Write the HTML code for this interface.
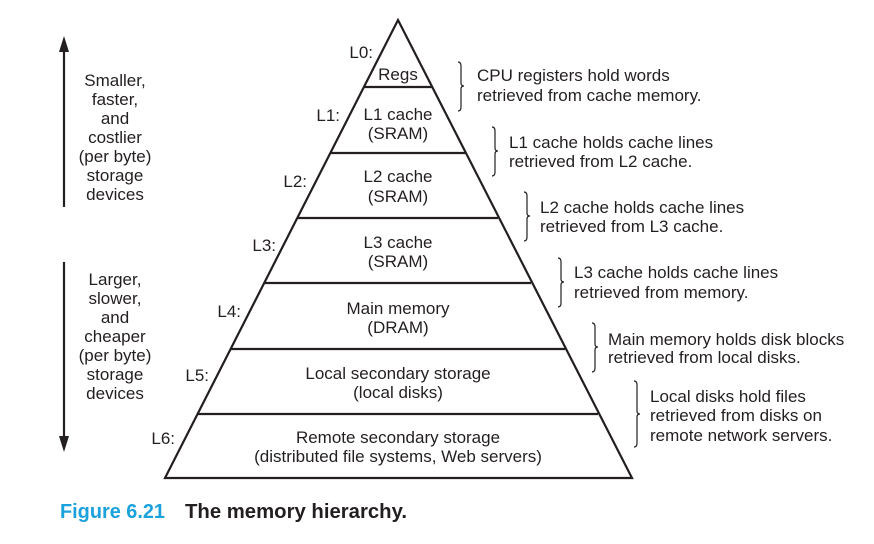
<!DOCTYPE html>
<html><head><meta charset="utf-8"><style>
html,body{margin:0;padding:0;background:#fff;}
svg{display:block;}
text{font-family:"Liberation Sans",Arial,sans-serif;font-size:17px;fill:#231f20;}
.c{text-anchor:middle;}
.e{text-anchor:end;}
</style></head><body>
<svg width="874" height="544" viewBox="0 0 874 544" xmlns="http://www.w3.org/2000/svg">
<g stroke="#231f20" fill="none" stroke-width="2.2">
<polygon points="398,20 632,478 165,478" stroke-linejoin="miter"/>
<line x1="364" y1="87" x2="432" y2="87"/>
<line x1="331" y1="153" x2="465" y2="153"/>
<line x1="298" y1="218" x2="498" y2="218"/>
<line x1="264" y1="283" x2="531" y2="283"/>
<line x1="231" y1="349" x2="565" y2="349"/>
<line x1="198" y1="414" x2="598" y2="414"/>
</g>
<g stroke="#231f20" fill="none" stroke-width="1.2">
<path d="M458,62 Q461,62 461,66 L461,83 Q461,86 464,86 Q461,86 461,89 L461,107 Q461,111 458,111"/>
<path d="M492,127 Q495,127 495,131 L495,148 Q495,151 498,151 Q495,151 495,154 L495,172 Q495,176 492,176"/>
<path d="M524,192 Q527,192 527,196 L527,213 Q527,216 530,216 Q527,216 527,219 L527,237 Q527,241 524,241"/>
<path d="M558,258 Q561,258 561,262 L561,279 Q561,282 564,282 Q561,282 561,285 L561,303 Q561,307 558,307"/>
<path d="M592,323 Q595,323 595,327 L595,344 Q595,347 598,347 Q595,347 595,350 L595,368 Q595,372 592,372"/>
<path d="M634,381 Q637,381 637,385 L637,411 Q637,414 640,414 Q637,414 637,417 L637,443 Q637,447 634,447"/>
</g>
<g stroke="#231f20" stroke-width="2.2">
<line x1="64" y1="50" x2="64" y2="207"/>
<line x1="64" y1="262" x2="64" y2="437"/>
</g>
<polygon points="64,36 59,52 69,52" fill="#231f20"/>
<polygon points="64,452 59,436 69,436" fill="#231f20"/>

<text class="e" x="373" y="58">L0:</text>
<text class="e" x="340" y="121">L1:</text>
<text class="e" x="307" y="187">L2:</text>
<text class="e" x="276" y="251">L3:</text>
<text class="e" x="241" y="317">L4:</text>
<text class="e" x="209" y="381">L5:</text>
<text class="e" x="175" y="444">L6:</text>

<text class="c" x="398" y="80">Regs</text>
<text class="c" x="398" y="120">L1 cache</text>
<text class="c" x="398" y="139">(SRAM)</text>
<text class="c" x="398" y="182">L2 cache</text>
<text class="c" x="398" y="202">(SRAM)</text>
<text class="c" x="398" y="248">L3 cache</text>
<text class="c" x="398" y="267">(SRAM)</text>
<text class="c" x="398" y="314">Main memory</text>
<text class="c" x="398" y="333">(DRAM)</text>
<text class="c" x="398" y="379">Local secondary storage</text>
<text class="c" x="398" y="398">(local disks)</text>
<text class="c" x="398" y="443">Remote secondary storage</text>
<text class="c" x="398" y="462">(distributed file systems, Web servers)</text>

<text x="477" y="81">CPU registers hold words</text>
<text x="477" y="101">retrieved from cache memory.</text>
<text x="509" y="148">L1 cache holds cache lines</text>
<text x="509" y="167">retrieved from L2 cache.</text>
<text x="540" y="213">L2 cache holds cache lines</text>
<text x="540" y="232">retrieved from L3 cache.</text>
<text x="574" y="278">L3 cache holds cache lines</text>
<text x="574" y="298">retrieved from memory.</text>
<text x="608" y="345">Main memory holds disk blocks</text>
<text x="608" y="363">retrieved from local disks.</text>
<text x="650" y="402">Local disks hold files</text>
<text x="650" y="421">retrieved from disks on</text>
<text x="650" y="441">remote network servers.</text>

<text class="c" x="115" y="86">Smaller,</text>
<text class="c" x="115" y="105">faster,</text>
<text class="c" x="115" y="124">and</text>
<text class="c" x="115" y="143">costlier</text>
<text class="c" x="115" y="162">(per byte)</text>
<text class="c" x="115" y="181">storage</text>
<text class="c" x="115" y="200">devices</text>

<text class="c" x="115" y="285">Larger,</text>
<text class="c" x="115" y="304">slower,</text>
<text class="c" x="115" y="323">and</text>
<text class="c" x="115" y="342">cheaper</text>
<text class="c" x="115" y="361">(per byte)</text>
<text class="c" x="115" y="380">storage</text>
<text class="c" x="115" y="399">devices</text>

<text x="60" y="518" textLength="105" lengthAdjust="spacingAndGlyphs" style="font-size:20px;fill:#1ba1dc;font-weight:bold;">Figure 6.21</text>
<text x="185" y="518" textLength="222" lengthAdjust="spacingAndGlyphs" style="font-size:20px;fill:#231f20;font-weight:bold;">The memory hierarchy.</text>
</svg>
</body></html>
